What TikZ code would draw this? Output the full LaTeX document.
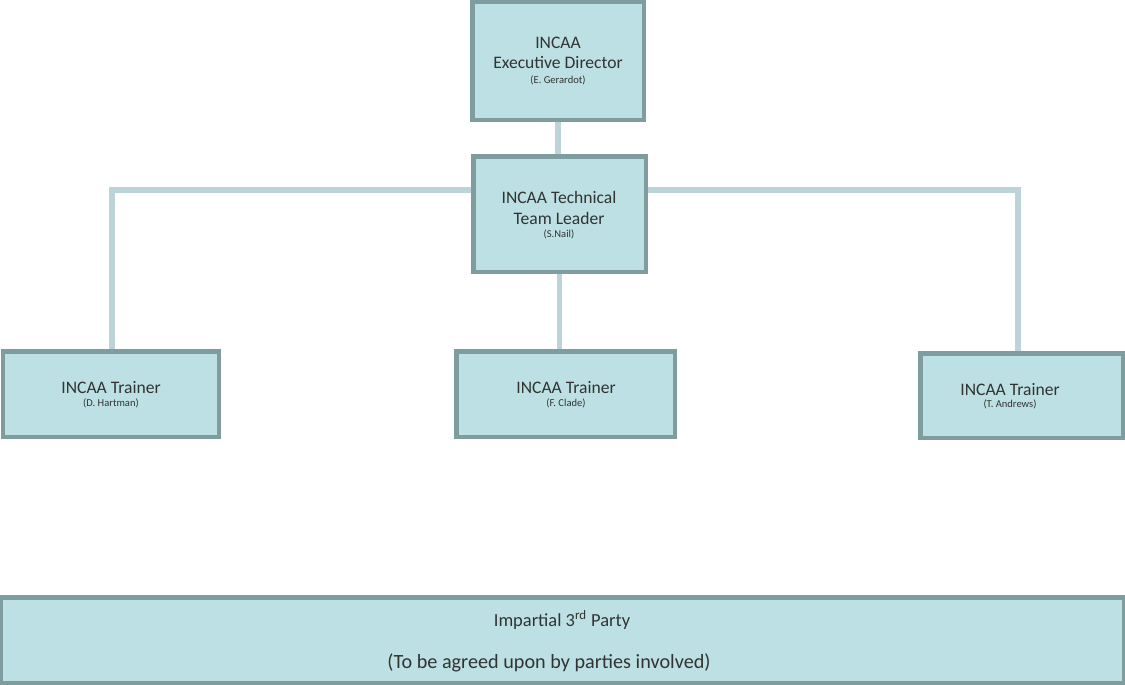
\documentclass[tikz,border=0pt]{standalone}
\usepackage{fontspec}
\setmainfont{Carlito}
\definecolor{boxfill}{HTML}{BCE0E3}
\definecolor{boxline}{HTML}{7F9C9E}
\definecolor{linkcol}{HTML}{BCD4D8}
\begin{document}
\begin{tikzpicture}[x=0.02cm,y=-0.02cm,
  orgbox/.style={draw=boxline,fill=boxfill,line width=1.7pt,inner sep=0pt,align=center,text=black!80},
  link/.style={draw=linkcol,line width=3pt},
  big/.style={font=\fontsize{10}{11.5}\selectfont},
  tiny/.style={font=\fontsize{6}{7}\selectfont}]
\useasboundingbox (0,0) rectangle (1125,684);
\coordinate (lc) at (112,190);
\coordinate (rc) at (1018,190);
\node[orgbox,minimum width=170*0.02cm,minimum height=116*0.02cm] (dir) at (558,61) {};
\node[orgbox,minimum width=171*0.02cm,minimum height=114*0.02cm] (ttl) at (559.5,214) {};
\node[orgbox,minimum width=214*0.02cm,minimum height=84*0.02cm] (t1) at (111,394) {};
\node[orgbox,minimum width=217*0.02cm,minimum height=84*0.02cm] (t2) at (565.5,394) {};
\node[orgbox,minimum width=201*0.02cm,minimum height=83*0.02cm] (t3) at (1021.5,395.5) {};
\node[orgbox,minimum width=1121*0.02cm,minimum height=84*0.02cm] (imp) at (562.5,640) {};
\draw[link] (dir.south) -- (dir.south |- ttl.north);
\draw[link] (ttl.west |- lc) -- (lc) -- (lc |- t1.north);
\draw[link] (ttl.east |- rc) -- (rc) -- (rc |- t3.north);
\draw[link] (ttl.south) -- (ttl.south |- t2.north);
\foreach \n in {dir,ttl,t1,t2,t3,imp}{\draw[boxline,line width=1.7pt] (\n.north west) rectangle (\n.south east);}
\node[big,text=black!80,align=center] (dirtxt) at (558,53) {INCAA\\Executive Director};
\node[tiny,text=black!80] (dirsub) at (558,80) {(E. Gerardot)};
\node[big,text=black!80,align=center] (ttltxt) at (559,208) {INCAA Technical\\Team Leader};
\node[tiny,text=black!80] (ttlsub) at (559,234) {(S.Nail)};
\node[big,text=black!80] (t1txt) at (111,388) {INCAA Trainer};
\node[tiny,text=black!80] (t1sub) at (111,403) {(D. Hartman)};
\node[big,text=black!80] (t2txt) at (566,388) {INCAA Trainer};
\node[tiny,text=black!80] (t2sub) at (566,403) {(F. Clade)};
\node[big,text=black!80] (t3txt) at (1010,390) {INCAA Trainer};
\node[tiny,text=black!80] (t3sub) at (1010,404) {(T. Andrews)};
\node[text=black!80,font=\fontsize{10.5}{12}\selectfont] (imptxt) at (562,620) {Impartial 3\textsuperscript{rd} Party};
\node[text=black!80,font=\fontsize{11.5}{13}\selectfont] (impsub) at (549,663) {(To be agreed upon by parties involved)};
\end{tikzpicture}
\end{document}
